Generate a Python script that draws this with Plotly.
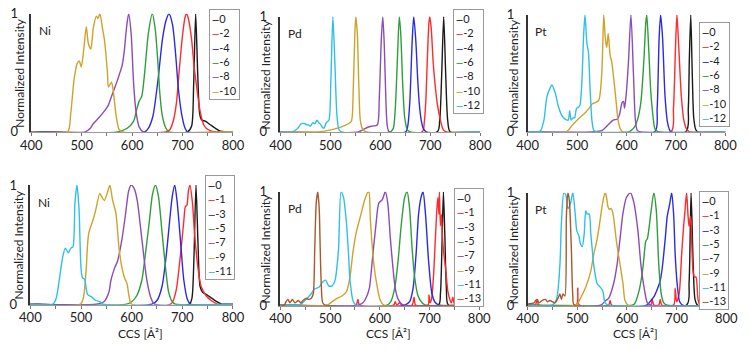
import plotly.graph_objects as go

# series colours, in the order the charges are listed (0, -1/-2, -3/-4, ...)
COLORS = ["#1a1a1a", "#ff2a2a", "#2a2ae6", "#2e9e3a", "#8a4cb8", "#d0a22a", "#2ec0e8", "#a8582a"]

# ---- Ni, even charges (top left) ----
ni_t_0 = [(400, 0), (710, 0), (718, 0.05), (722, 0.4), (726, 1.0), (730, 0.5), (734, 0.15), (738, 0.1), (745, 0.09), (755, 0.06), (765, 0.03), (775, 0.005), (785, 0), (800, 0)]
ni_t_m2 = [(400, 0), (667, 0), (675, 0.02), (682, 0.1), (688, 0.25), (693, 0.5), (700, 0.82), (705, 0.97), (708, 1.0), (712, 0.95), (718, 0.78), (723, 0.55), (728, 0.38), (733, 0.22), (737, 0.13), (742, 0.06), (747, 0.03), (755, 0.01), (765, 0), (800, 0)]
ni_t_m4 = [(400, 0), (625, 0), (632, 0.03), (641, 0.13), (651, 0.43), (660, 0.78), (667, 0.94), (673, 1.0), (680, 0.91), (686, 0.67), (692, 0.35), (699, 0.13), (705, 0.03), (710, 0), (800, 0)]
ni_t_m6 = [(400, 0), (571, 0), (590, 0.03), (603, 0.09), (609, 0.19), (614, 0.26), (619, 0.3), (625, 0.51), (632, 0.83), (640, 1.0), (646, 0.86), (651, 0.59), (655, 0.32), (660, 0.13), (667, 0.03), (673, 0), (800, 0)]
ni_t_m8 = [(400, 0), (507, 0), (517, 0.03), (523, 0.07), (532, 0.11), (542, 0.16), (552, 0.22), (559, 0.3), (566, 0.38), (571, 0.44), (580, 0.56), (584, 0.67), (589, 0.89), (593, 1.0), (598, 0.83), (603, 0.4), (608, 0.16), (614, 0.04), (622, 0), (800, 0)]
ni_t_m10 = [(400, 0), (472, 0), (478, 0.15), (485, 0.45), (491, 0.58), (495, 0.6), (499, 0.55), (504, 0.7), (509, 0.89), (513, 0.75), (518, 0.7), (523, 0.88), (529, 0.98), (532, 0.96), (536, 1.0), (541, 0.88), (545, 0.78), (551, 0.5), (553, 0.38), (559, 0.42), (563, 0.33), (568, 0.14), (574, 0.02), (580, 0), (800, 0)]

# ---- Pd, even charges (top middle) ----
pd_t_0 = [(400, 0), (714, 0), (719, 0.1), (723, 0.5), (727, 1.0), (731, 0.5), (735, 0.1), (740, 0), (800, 0)]
pd_t_m2 = [(400, 0), (684, 0), (688, 0.08), (691, 0.25), (694, 0.6), (697, 0.92), (699, 1.0), (702, 0.9), (706, 0.6), (710, 0.4), (715, 0.22), (720, 0.11), (726, 0.02), (732, 0), (800, 0)]
pd_t_m4 = [(400, 0), (651, 0), (655, 0.05), (659, 0.25), (664, 0.8), (667, 1.0), (671, 0.8), (675, 0.45), (678, 0.25), (682, 0.1), (686, 0.03), (692, 0), (800, 0)]
pd_t_m6 = [(400, 0), (620, 0), (626, 0.03), (630, 0.2), (634, 0.6), (638, 1.0), (641, 0.85), (645, 0.4), (649, 0.12), (654, 0.02), (660, 0), (800, 0)]
pd_t_m8 = [(400, 0), (556, 0), (566, 0.02), (575, 0.04), (584, 0.05), (594, 0.06), (598, 0.3), (602, 0.8), (605, 1.0), (608, 0.75), (611, 0.3), (614, 0.05), (618, 0), (800, 0)]
pd_t_m10 = [(400, 0), (474, 0), (494, 0.01), (513, 0.03), (526, 0.05), (536, 0.07), (542, 0.09), (546, 0.4), (549, 0.85), (551, 1.0), (554, 0.85), (557, 0.4), (560, 0.1), (565, 0.02), (572, 0), (800, 0)]
pd_t_m12 = [(400, 0), (423, 0), (432, 0.02), (438, 0.05), (441, 0.07), (449, 0.07), (453, 0.06), (456, 0.06), (460, 0.05), (465, 0.08), (469, 0.07), (473, 0.1), (477, 0.08), (481, 0.06), (484, 0.04), (487, 0.03), (492, 0.08), (497, 0.1), (501, 0.45), (505, 1.0), (509, 0.6), (513, 0.15), (517, 0.02), (522, 0), (800, 0)]

# ---- Pt, even charges (top right) ----
pt_t_0 = [(400, 0), (720, 0), (725, 0.2), (727, 0.6), (730, 1.0), (733, 0.5), (736, 0.12), (740, 0.02), (744, 0), (800, 0)]
pt_t_m2 = [(400, 0), (690, 0), (695, 0.2), (699, 0.7), (702, 1.0), (706, 0.7), (711, 0.3), (716, 0.1), (722, 0.02), (728, 0), (800, 0)]
pt_t_m4 = [(400, 0), (657, 0), (662, 0.2), (666, 0.8), (669, 1.0), (673, 0.8), (678, 0.3), (683, 0.08), (690, 0), (800, 0)]
pt_t_m6 = [(400, 0), (605, 0), (609, 0.01), (616, 0.04), (622, 0.1), (629, 0.25), (635, 0.6), (639, 0.93), (641, 1.0), (645, 0.7), (649, 0.35), (652, 0.2), (658, 0.02), (665, 0), (800, 0)]
pt_t_m8 = [(400, 0), (531, 0), (550, 0.01), (563, 0.06), (573, 0.1), (582, 0.11), (586, 0.15), (591, 0.25), (594, 0.26), (596, 0.2), (599, 0.3), (604, 0.6), (609, 1.0), (614, 0.5), (618, 0.1), (622, 0.01), (629, 0), (800, 0)]
pt_t_m10 = [(400, 0), (478, 0), (491, 0.06), (505, 0.12), (518, 0.17), (524, 0.2), (531, 0.24), (537, 0.25), (544, 0.27), (550, 0.5), (554, 1.0), (557, 0.8), (560, 0.72), (563, 0.84), (567, 0.65), (570, 0.6), (573, 0.5), (578, 0.3), (583, 0.1), (588, 0.02), (593, 0), (800, 0)]
pt_t_m12 = [(400, 0), (420, 0), (426, 0.01), (433, 0.1), (439, 0.3), (446, 0.38), (449, 0.4), (456, 0.33), (462, 0.22), (469, 0.14), (475, 0.11), (482, 0.1), (485, 0.18), (488, 0.1), (492, 0.12), (495, 0.12), (499, 0.2), (503, 0.21), (506, 0.23), (510, 0.45), (513, 0.8), (516, 1.0), (520, 0.75), (523, 0.68), (526, 0.4), (530, 0.1), (534, 0.01), (541, 0), (800, 0)]

# ---- Ni, odd charges (bottom left) ----
ni_b_0 = [(400, 0), (714, 0), (719, 0.05), (723, 0.4), (727, 1.0), (731, 0.5), (735, 0.15), (740, 0.1), (748, 0.08), (758, 0.05), (768, 0.02), (778, 0), (800, 0)]
ni_b_m1 = [(400, 0), (677, 0), (687, 0.1), (696, 0.4), (703, 0.7), (706, 0.82), (709, 0.83), (712, 0.95), (715, 1.0), (720, 0.85), (724, 0.6), (731, 0.3), (737, 0.15), (747, 0.07), (757, 0.03), (769, 0), (800, 0)]
ni_b_m3 = [(400, 0), (640, 0), (650, 0.03), (660, 0.15), (668, 0.4), (675, 0.7), (680, 0.9), (685, 1.0), (690, 0.85), (697, 0.5), (703, 0.2), (710, 0.04), (716, 0), (800, 0)]
ni_b_m5 = [(400, 0), (590, 0), (600, 0.02), (610, 0.07), (620, 0.2), (628, 0.45), (635, 0.7), (641, 0.92), (647, 1.0), (653, 0.9), (660, 0.6), (667, 0.3), (673, 0.1), (680, 0.02), (686, 0), (800, 0)]
ni_b_m7 = [(400, 0), (530, 0), (545, 0.02), (555, 0.1), (559, 0.2), (566, 0.3), (572, 0.36), (581, 0.55), (588, 0.76), (594, 0.95), (599, 1.0), (605, 0.97), (611, 0.87), (620, 0.55), (630, 0.2), (639, 0.04), (645, 0), (800, 0)]
ni_b_m9 = [(400, 0), (499, 0), (505, 0.06), (510, 0.28), (515, 0.59), (524, 0.71), (529, 0.79), (537, 0.93), (541, 0.9), (546, 0.87), (553, 0.95), (557, 1.0), (562, 0.88), (569, 0.76), (575, 0.47), (581, 0.3), (586, 0.22), (591, 0.17), (595, 0.06), (600, 0), (800, 0)]
ni_b_m11 = [(400, 0), (445, 0), (451, 0.05), (457, 0.2), (464, 0.4), (469, 0.47), (475, 0.43), (480, 0.47), (484, 0.48), (488, 0.85), (492, 1.0), (496, 0.8), (500, 0.3), (503, 0.22), (507, 0.21), (513, 0.08), (521, 0.06), (529, 0.03), (537, 0.02), (543, 0), (800, 0)]

# ---- Pd, odd charges (bottom middle) ----
pd_b_0 = [(400, 0), (718, 0), (722, 0.1), (725, 0.5), (728, 1.0), (731, 0.6), (734, 0.15), (738, 0), (800, 0)]
pd_b_m1 = [(400, 0), (552, 0), (556, 0.05), (559, 0), (628, 0), (631, 0.03), (634, 0), (640, 0.02), (644, 0), (665, 0), (669, 0.07), (672, 0), (697, 0), (699, 0.09), (701, 0.02), (704, 0.05), (708, 0.25), (712, 0.6), (715, 0.85), (717, 0.95), (719, 0.8), (720, 1.0), (722, 0.7), (724, 0.8), (726, 0.6), (729, 0.45), (733, 0.3), (737, 0.12), (741, 0.05), (744, 0.02), (747, 0.07), (750, 0.01), (754, 0.03), (758, 0), (800, 0)]
pd_b_m3 = [(400, 0), (650, 0), (660, 0.03), (667, 0.15), (673, 0.45), (678, 0.8), (683, 0.95), (687, 1.0), (692, 0.8), (698, 0.4), (705, 0.1), (712, 0.02), (720, 0), (800, 0)]
pd_b_m5 = [(400, 0), (615, 0), (622, 0.03), (630, 0.15), (637, 0.4), (643, 0.7), (650, 0.95), (655, 1.0), (660, 0.85), (665, 0.5), (670, 0.25), (677, 0.08), (685, 0.02), (692, 0), (800, 0)]
pd_b_m7 = [(400, 0), (556, 0), (566, 0.02), (572, 0.06), (579, 0.15), (585, 0.4), (592, 0.7), (598, 0.9), (605, 0.93), (611, 1.0), (616, 0.9), (621, 0.6), (626, 0.35), (631, 0.15), (637, 0.05), (644, 0.01), (650, 0), (800, 0)]
pd_b_m9 = [(400, 0), (494, 0), (501, 0.02), (514, 0.06), (524, 0.08), (533, 0.12), (540, 0.25), (546, 0.47), (553, 0.65), (562, 0.8), (569, 0.92), (575, 0.99), (578, 1.0), (581, 0.75), (588, 0.36), (594, 0.18), (601, 0.04), (608, 0), (800, 0)]
pd_b_m11 = [(400, 0), (436, 0), (442, 0.01), (449, 0.04), (455, 0.065), (462, 0.1), (468, 0.14), (478, 0.16), (484, 0.2), (491, 0.22), (497, 0.17), (504, 0.17), (510, 0.22), (514, 0.35), (517, 0.5), (522, 1.0), (527, 0.95), (530, 0.85), (533, 0.72), (537, 0.45), (540, 0.22), (546, 0.04), (552, 0), (800, 0)]
pd_b_m13 = [(400, 0), (408, 0), (410, 0.02), (415, 0.05), (419, 0.02), (424, 0.05), (429, 0.02), (436, 0.04), (441, 0.02), (445, 0.04), (452, 0.06), (456, 0.05), (462, 0.06), (466, 0.1), (469, 0.5), (472, 0.9), (475, 1.0), (478, 0.85), (480, 0.5), (482, 0.2), (485, 0.02), (490, 0), (800, 0)]

# ---- Pt, odd charges (bottom right) ----
pt_b_0 = [(400, 0), (720, 0), (725, 0.2), (729, 1.0), (733, 0.4), (737, 0.05), (742, 0), (800, 0)]
pt_b_m1 = [(400, 0), (415, 0), (418, 0.03), (420, 0.05), (422, 0), (498, 0), (501, 0.15), (504, 0), (563, 0), (566, 0.04), (569, 0), (648, 0), (651, 0.05), (654, 0), (664, 0), (667, 0.05), (670, 0), (694, 0), (697, 0.15), (700, 0.03), (705, 0.1), (710, 0.45), (714, 0.7), (717, 0.85), (720, 1.0), (723, 0.79), (725, 0.7), (728, 0.79), (730, 0.6), (733, 0.3), (736, 0.25), (739, 0.25), (743, 0.05), (747, 0), (800, 0)]
pt_b_m3 = [(400, 0), (640, 0), (648, 0.04), (655, 0.08), (661, 0.14), (667, 0.22), (671, 0.33), (677, 0.59), (681, 0.79), (686, 0.9), (690, 1.0), (694, 0.8), (697, 0.45), (701, 0.19), (706, 0.03), (712, 0), (800, 0)]
pt_b_m5 = [(400, 0), (610, 0), (615, 0.01), (625, 0.14), (632, 0.33), (638, 0.57), (641, 0.59), (648, 0.82), (654, 1.0), (659, 0.84), (664, 0.36), (669, 0.1), (674, 0.02), (681, 0), (800, 0)]
pt_b_m7 = [(400, 0), (547, 0), (557, 0.04), (563, 0.06), (573, 0.19), (580, 0.36), (586, 0.59), (592, 0.82), (599, 0.96), (607, 1.0), (614, 0.91), (622, 0.66), (628, 0.36), (635, 0.14), (641, 0.02), (648, 0), (800, 0)]
pt_b_m9 = [(400, 0), (497, 0), (507, 0.065), (517, 0.16), (527, 0.3), (533, 0.45), (540, 0.59), (546, 0.76), (551, 0.91), (556, 1.0), (558, 0.98), (562, 0.87), (565, 0.85), (568, 0.86), (572, 0.81), (579, 0.56), (585, 0.39), (592, 0.19), (596, 0.04), (602, 0), (800, 0)]
pt_b_m11 = [(400, 0), (449, 0), (458, 0.05), (465, 0.36), (468, 0.73), (473, 1.0), (477, 0.98), (481, 0.86), (486, 0.9), (491, 1.0), (496, 0.8), (499, 0.66), (503, 0.62), (506, 0.55), (510, 0.52), (514, 0.64), (517, 0.84), (520, 0.81), (524, 0.81), (527, 0.64), (530, 0.5), (533, 0.36), (540, 0.19), (546, 0.16), (551, 0.13), (556, 0.02), (563, 0), (800, 0)]
pt_b_m13 = [(400, 0.01), (413, 0.02), (418, 0.05), (423, 0.02), (429, 0.04), (436, 0.05), (440, 0.03), (445, 0.04), (455, 0.02), (462, 0.07), (465, 0.1), (468, 0.05), (471, 0.1), (475, 0.08), (478, 0.79), (481, 1.0), (484, 0.93), (488, 0.5), (491, 0.08), (494, 0), (800, 0)]

EVEN_LABELS = ["0", "-2", "-4", "-6", "-8", "-10", "-12"]
ODD_LABELS = ["0", "-1", "-3", "-5", "-7", "-9", "-11", "-13"]

# panel layout in pixels of the 749x349 page: plot box, legend box corner, y title x
W, H = 749, 349
panels = [
    dict(metal="Ni", series=[ni_t_0, ni_t_m2, ni_t_m4, ni_t_m6, ni_t_m8, ni_t_m10], labels=EVEN_LABELS,
         box=(21, 229, 6, 130), legend=(204, 1), ytitle_x=8, xtitle=False),
    dict(metal="Pd", series=[pd_t_0, pd_t_m2, pd_t_m4, pd_t_m6, pd_t_m8, pd_t_m10, pd_t_m12], labels=EVEN_LABELS,
         box=(278, 484, 9, 130), legend=(456, 1), ytitle_x=263, xtitle=False),
    dict(metal="Pt", series=[pt_t_0, pt_t_m2, pt_t_m4, pt_t_m6, pt_t_m8, pt_t_m10, pt_t_m12], labels=EVEN_LABELS,
         box=(533, 737, 7, 130), legend=(710, 15), ytitle_x=518, xtitle=False),
    dict(metal="Ni", series=[ni_b_0, ni_b_m1, ni_b_m3, ni_b_m5, ni_b_m7, ni_b_m9, ni_b_m11], labels=ODD_LABELS,
         box=(20, 229, 185, 310), legend=(200, 175), ytitle_x=8, xtitle=True),
    dict(metal="Pd", series=[pd_b_0, pd_b_m1, pd_b_m3, pd_b_m5, pd_b_m7, pd_b_m9, pd_b_m11, pd_b_m13], labels=ODD_LABELS,
         box=(278, 483, 192, 311), legend=(457, 188), ytitle_x=263, xtitle=True),
    dict(metal="Pt", series=[pt_b_0, pt_b_m1, pt_b_m3, pt_b_m5, pt_b_m7, pt_b_m9, pt_b_m11, pt_b_m13], labels=ODD_LABELS,
         box=(533, 738, 193, 311), legend=(710, 191), ytitle_x=518, xtitle=True),
]

FONT = "Lato, 'Open Sans', sans-serif"

fig = go.Figure()
annotations = []
layout_axes = {}

for i, p in enumerate(panels, start=1):
    sfx = "" if i == 1 else str(i)
    x0, x1, y0, y1 = p["box"]
    xdom = [x0 / W, x1 / W]
    ydom = [1 - y1 / H, 1 - y0 / H]
    #draw each spectrum
    for k, (lab, pts) in enumerate(zip(p["labels"], p["series"])):
        fig.add_trace(go.Scatter(
            x=[a for a, b in pts], y=[b for a, b in pts], mode="lines", name=lab,
            line=dict(color=COLORS[k], width=1.4, shape="spline", smoothing=0.7),
            xaxis="x" + sfx, yaxis="y" + sfx, showlegend=False))
    layout_axes["xaxis" + sfx] = dict(
        domain=xdom, anchor="y" + sfx, range=[400, 800], tickvals=[400, 500, 600, 700, 800],
        ticks="outside", ticklen=3, tickcolor="#777", showline=True, linecolor="#999", linewidth=1,
        minor=dict(dtick=50, ticks="outside", ticklen=3, tickcolor="#777"), ticklabelstandoff=-2,
        showgrid=False, zeroline=False, tickfont=dict(size=13, color="#222", family=FONT))
    layout_axes["yaxis" + sfx] = dict(
        domain=ydom, anchor="x" + sfx, range=[-0.005, 1.0], tickvals=[0, 1], ticks="",
        ticklabelstandoff=9, showline=True, linecolor="#333", linewidth=1.5,
        showgrid=False, zeroline=False, tickfont=dict(size=13, color="#222", family=FONT))
    #metal label in the corner
    annotations.append(dict(
        text=p["metal"], x=(x0 + 6) / W, y=1 - (y0 + 18) / H, xref="paper", yref="paper",
        xanchor="left", yanchor="middle", showarrow=False, font=dict(size=12, color="#222", family=FONT)))
    annotations.append(dict(
        text="Normalized Intensity", x=p["ytitle_x"] / W, y=1 - (y0 + y1) / 2 / H, xref="paper", yref="paper",
        textangle=-90, xanchor="center", yanchor="middle", showarrow=False,
        font=dict(size=12, color="#222", family=FONT)))
    if p["xtitle"]:
        annotations.append(dict(
            text="CCS [Å²]", x=((x0 + x1) / 2 + 9) / W, y=1 - 340 / H, xref="paper", yref="paper",
            xanchor="center", yanchor="middle", showarrow=False, font=dict(size=12, color="#222", family=FONT)))
    #small legend box like the original: coloured line sample, then the charge
    rows = ['<span style="color:%s;font-size:9px;font-weight:bold">—</span>%s' % (COLORS[k], lab)
            for k, lab in enumerate(p["labels"][:len(p["series"])])]
    lx, ly = p["legend"]
    annotations.append(dict(
        text="<br>".join(rows), x=lx / W, y=1 - ly / H, xref="paper", yref="paper",
        xanchor="left", yanchor="top", align="left", showarrow=False,
        bordercolor="#999", borderwidth=1, borderpad=2, bgcolor="white",
        font=dict(size=11, color="#222", family=FONT)))

fig.update_layout(
    width=W, height=H, margin=dict(l=0, r=0, t=0, b=0),
    paper_bgcolor="white", plot_bgcolor="white",
    showlegend=False, annotations=annotations, **layout_axes)

# drop the browser's default body margin so the figure sits at the page corner
fig.write_html("out.html", config={"displayModeBar": False},
               post_script="document.body.style.margin='0';")
